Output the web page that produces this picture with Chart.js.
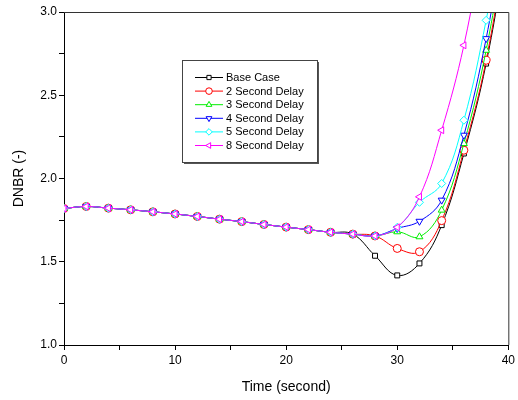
<!DOCTYPE html>
<html>
<head>
<meta charset="utf-8">
<script src="https://cdn.jsdelivr.net/npm/chart.js@4/dist/chart.umd.min.js"></script>
<style>
  body { margin: 0; background: #fff; }
  canvas { display: block; }
</style>
</head>
<body>
<canvas id="c" width="518" height="400"></canvas>
<script>
// time axis, every 2 s
const timeSec = [0, 2, 4, 6, 8, 10, 12, 14, 16, 18, 20, 22, 24, 26, 28, 30, 32, 34, 36, 38, 40]
// shared part of all cases (0 .. 26 s)
const common = [1.82, 1.832, 1.822, 1.812, 1.80, 1.787, 1.772, 1.756, 1.741, 1.724, 1.708, 1.693, 1.677, 1.666]

const baseCase = common.concat([1.536, 1.418, 1.49, 1.72, 2.15, 2.69, 3.45])
const delay2 = common.concat([1.655, 1.58, 1.56, 1.747, 2.17, 2.71, 3.5])
const delay3 = common.concat([1.655, 1.68, 1.65, 1.81, 2.21, 2.77, 3.55])
const delay4 = common.concat([1.655, 1.70, 1.743, 1.87, 2.26, 2.84, 3.6])
const delay5 = common.concat([1.655, 1.707, 1.857, 1.97, 2.35, 2.95, 3.7])
const delay8 = common.concat([1.655, 1.707, 1.89, 2.29, 2.80, 3.5, 4.1])

const seriesNames = ['Base Case', '2 Second Delay', '3 Second Delay', '4 Second Delay', '5 Second Delay', '8 Second Delay']
const seriesValues = [baseCase, delay2, delay3, delay4, delay5, delay8]
const seriesColors = ['#000000', '#ff0000', '#00ee00', '#0000ff', '#00ffff', '#ff00ff']
const seriesMarkers = ['rect', 'circle', 'triangle', 'triangle', 'rectRot', 'triangle']
const markerRotation = [0, 0, 0, 180, 0, 270]

const yTicks = [1.0, 1.5, 2.0, 2.5, 3.0]
const xTicks = [0, 10, 20, 30, 40]

const FONT = 'Liberation Sans, Arial, sans-serif'

const datasets = seriesNames.map((name, i) => {
  return {
    label: name,
    data: timeSec.map((t, k) => ({ x: t, y: seriesValues[i][k] })),
    borderColor: seriesColors[i],
    backgroundColor: '#ffffff',
    borderWidth: 1,
    pointStyle: seriesMarkers[i],
    pointRotation: markerRotation[i],
    pointRadius: seriesMarkers[i] === 'rect' ? 3.5 : 4,
    pointBorderWidth: 1,
    pointBorderColor: seriesColors[i],
    pointBackgroundColor: '#ffffff',
    tension: 0.4,
    order: seriesNames.length - i // last one on top
  }
})

// frame on top and right
const framePlugin = {
  id: 'frame',
  afterDraw(chart) {
    const { ctx, chartArea: a } = chart
    ctx.save()
    ctx.strokeStyle = '#333'
    ctx.lineWidth = 1
    ctx.beginPath()
    ctx.moveTo(a.left, a.top + 0.5)
    ctx.lineTo(a.right + 0.5, a.top + 0.5)
    ctx.lineTo(a.right + 0.5, a.bottom)
    ctx.stroke()
    ctx.restore()
  }
}

// boxed legend inside the plot
const boxLegend = {
  id: 'boxLegend',
  afterDraw(chart) {
    const ctx = chart.ctx
    const bx = 182, by = 60, bw = 135, bh = 102
    ctx.save()
    ctx.fillStyle = '#555'
    ctx.fillRect(bx + 2, by + 2, bw, bh)
    ctx.fillStyle = '#fff'
    ctx.fillRect(bx, by, bw, bh)
    ctx.strokeStyle = '#444'
    ctx.lineWidth = 1
    ctx.strokeRect(bx + 0.5, by + 0.5, bw, bh)
    ctx.font = '11px ' + FONT
    ctx.textBaseline = 'middle'
    chart.data.datasets.forEach((ds, i) => {
      const y = 77.5 + i * 13.6
      ctx.strokeStyle = ds.borderColor
      ctx.beginPath()
      ctx.moveTo(195, y)
      ctx.lineTo(223, y)
      ctx.stroke()
      ctx.fillStyle = '#fff'
      Chart.helpers.drawPoint(ctx, {
        pointStyle: ds.pointStyle,
        rotation: ds.pointRotation,
        radius: ds.pointStyle === 'rect' ? 3 : 3.3,
        borderWidth: 1
      }, 209, y)
      ctx.fillStyle = '#000'
      ctx.fillText(ds.label, 226, y + 0.5)
    })
    ctx.restore()
  }
}

new Chart(document.getElementById('c'), {
  type: 'line',
  data: { datasets: datasets },
  options: {
    responsive: false,
    animation: false,
    layout: { padding: { top: 12, right: 6, left: 0, bottom: 0 } },
    plugins: {
      legend: { display: false },
      tooltip: { enabled: false }
    },
    scales: {
      x: {
        type: 'linear',
        min: 0,
        max: 40,
        afterFit: scale => { scale.height = 55 },
        border: { color: '#000', width: 1 },
        grid: { drawOnChartArea: false, color: '#000', tickLength: 5 },
        ticks: {
          stepSize: 5,
          autoSkip: false,
          maxRotation: 0,
          color: '#000',
          font: { family: FONT, size: 12 },
          padding: 3,
          callback: v => (xTicks.includes(v) ? String(v) : '')
        },
        title: {
          display: true,
          text: 'Time (second)',
          color: '#000',
          font: { family: FONT, size: 14 },
          padding: { top: 0, bottom: 4 }
        }
      },
      y: {
        min: 1,
        max: 3,
        afterFit: scale => { scale.width = 64 },
        border: { color: '#000', width: 1 },
        grid: { drawOnChartArea: false, color: '#000', tickLength: 5 },
        ticks: {
          stepSize: 0.25,
          autoSkip: false,
          color: '#000',
          font: { family: FONT, size: 12 },
          padding: 2,
          callback: v => (yTicks.some(t => Math.abs(t - v) < 1e-6) ? v.toFixed(1) : '')
        },
        title: {
          display: true,
          text: 'DNBR (-)',
          color: '#000',
          font: { family: FONT, size: 14 },
          padding: { top: 11, bottom: 0 }
        }
      }
    }
  },
  plugins: [framePlugin, boxLegend]
})
</script>
</body>
</html>
